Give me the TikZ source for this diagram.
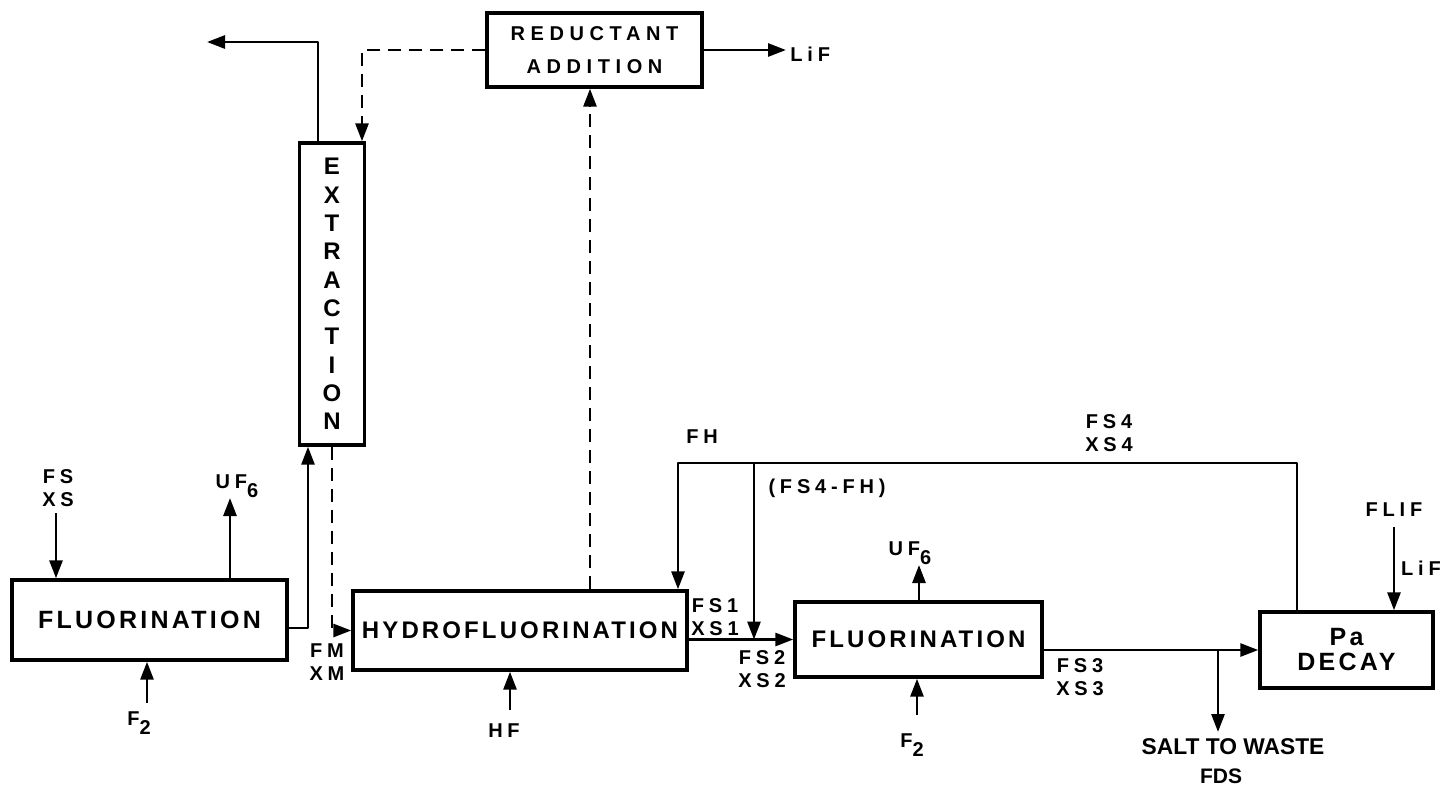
\documentclass[tikz,border=0pt]{standalone}
\usepackage{fontspec}
\setmainfont{Liberation Sans}
\newfontfamily\lblfont[LetterSpace=24]{Liberation Sans}
\newfontfamily\boxfont[LetterSpace=13]{Liberation Sans}
\newfontfamily\redfont[LetterSpace=28]{Liberation Sans}
\newfontfamily\plainfont{Liberation Sans}
\newcommand\lsub[1]{\raisebox{-0.9ex}{#1}}
\usetikzlibrary{arrows.meta,calc}
\begin{document}
\begin{tikzpicture}[x=0.5pt,y=-0.5pt,
  unit/.style={draw, line width=1.7pt, inner sep=0pt, font=\boxfont\bfseries\fontsize{12}{14}\selectfont},
  lbl/.style={inner sep=0pt, align=center, font=\lblfont\bfseries\fontsize{10}{11.5}\selectfont},
  flow/.style={line width=1.4pt, line join=round, -{Triangle[length=9pt,width=6.5pt]}},
  dflow/.style={flow, dash pattern=on 6.5pt off 4pt},
]
\useasboundingbox (0,0) rectangle (1447,788);

% units
\node[unit, minimum width=107.5pt, minimum height=37pt, align=center,
      font=\redfont\bfseries\fontsize{10}{16.5}\selectfont] (red) at (594.5,50) {REDUCTANT\\ADDITION};
\node[unit, minimum width=32.5pt, minimum height=151pt, align=center,
      font=\plainfont\bfseries\fontsize{12}{14.15}\selectfont] (ext) at (332,294) {E\\X\\T\\R\\A\\C\\T\\I\\O\\N};
\node[unit, minimum width=137.5pt, minimum height=40pt, font=\boxfont\bfseries\fontsize{12.5}{14}\selectfont] (fl1) at (149.5,620) {FLUORINATION};
\node[unit, minimum width=167pt, minimum height=39.5pt] (hyd) at (520,630.5) {HYDROFLUORINATION};
\node[unit, minimum width=123.5pt, minimum height=37.5pt] (fl2) at (918.5,639.5) {FLUORINATION};
\node[unit, minimum width=86.5pt, minimum height=38pt, align=center,
      font=\boxfont\bfseries\fontsize{12.5}{12.5}\selectfont] (pa) at (1346.5,650) {Pa\\DECAY};

% labels
\node[lbl] (fsxs) at (58,488) {FS\\XS};
\node[lbl] (uf1) at (237,486) {UF\lsub{6}};
\node[lbl] (f21) at (139,723) {F\lsub{2}};
\node[lbl] (fmxm) at (327,662) {FM\\XM};
\node[lbl] (hf) at (504,731) {HF};
\node[lbl] (fh) at (702,437) {FH};
\node[lbl] (fsfh) at (827,488) {(FS4-FH)};
\node[lbl] (fs4) at (1109,433) {FS4\\XS4};
\node[lbl] (fs1) at (715,617) {FS1\\XS1};
\node[lbl] (fs2) at (762,669) {FS2\\XS2};
\node[lbl] (uf2) at (910,553) {UF\lsub{6}};
\node[lbl] (f22) at (912,745) {F\lsub{2}};
\node[lbl] (fs3) at (1080,677) {FS3\\XS3};
\node[inner sep=0pt, font=\plainfont\bfseries\fontsize{11.4}{14}\selectfont] (salt) at (1233,747) {SALT TO WASTE};
\node[inner sep=0pt, font=\plainfont\bfseries\fontsize{10.5}{12}\selectfont] (fds) at (1221,776) {FDS};
\node[lbl] (flif) at (1394,510) {FLIF};
\node[lbl] (lif2) at (1421,568) {LiF};
\node[lbl, anchor=west] (lif1) at (790,54) {LiF};

% coordinates
\coordinate (outL) at (207,42);
\coordinate (xa) at (318,0);
\coordinate (xb) at (362,0);
\coordinate (xc) at (308,0);
\coordinate (xd) at (590,0);
\coordinate (top) at (0,463);
\coordinate (xl) at (678,0);
\coordinate (xm) at (754,0);
\coordinate (xr) at (1297,0);
\coordinate (xw) at (1218,0);
\coordinate (waste) at (1218,732);
\coordinate (fsin) at (56,513);
\coordinate (uf1t) at (230,498);
\coordinate (f1s) at (147,703);
\coordinate (hfs) at (510,710);
\coordinate (uf2t) at (919,565);
\coordinate (f2s) at (917,715);
\coordinate (flifs) at (1394,527);

% connectors
\draw[flow] ([yshift=-4pt]fl1.east) -| (xc |- ext.south);
\draw[flow] (xa |- ext.north) |- (outL);
\draw[dflow] (red.west) -| (xb |- ext.north);
\draw[dflow] (ext.south) |- (hyd.west);
\draw[dflow] (xd |- hyd.north) -- (xd |- red.south);
\draw[flow, shorten >=2pt] (red.east) -- (red.east -| lif1.west);
\draw[flow] (fsin) -- (fsin |- fl1.north);
\draw[flow] (uf1t |- fl1.north) -- (uf1t);
\draw[flow] (f1s) -- (f1s |- fl1.south);
\draw[flow] (hfs) -- (hfs |- hyd.south);
\draw[flow] (xr |- pa.north) -- (xr |- top) -- (xl |- top) -- (xl |- hyd.north);
\draw[flow] (xm |- top) -- (xm |- fl2.west);
\draw[flow] (hyd.east |- fl2.west) -- (fl2.west);
\draw[flow] (fl2.east |- pa.west) -- (pa.west);
\draw[flow] (xw |- pa.west) -- (waste);
\draw[flow] (uf2t |- fl2.north) -- (uf2t);
\draw[flow] (f2s) -- (f2s |- fl2.south);
\draw[flow] (flifs) -- (flifs |- pa.north);
\end{tikzpicture}
\end{document}
